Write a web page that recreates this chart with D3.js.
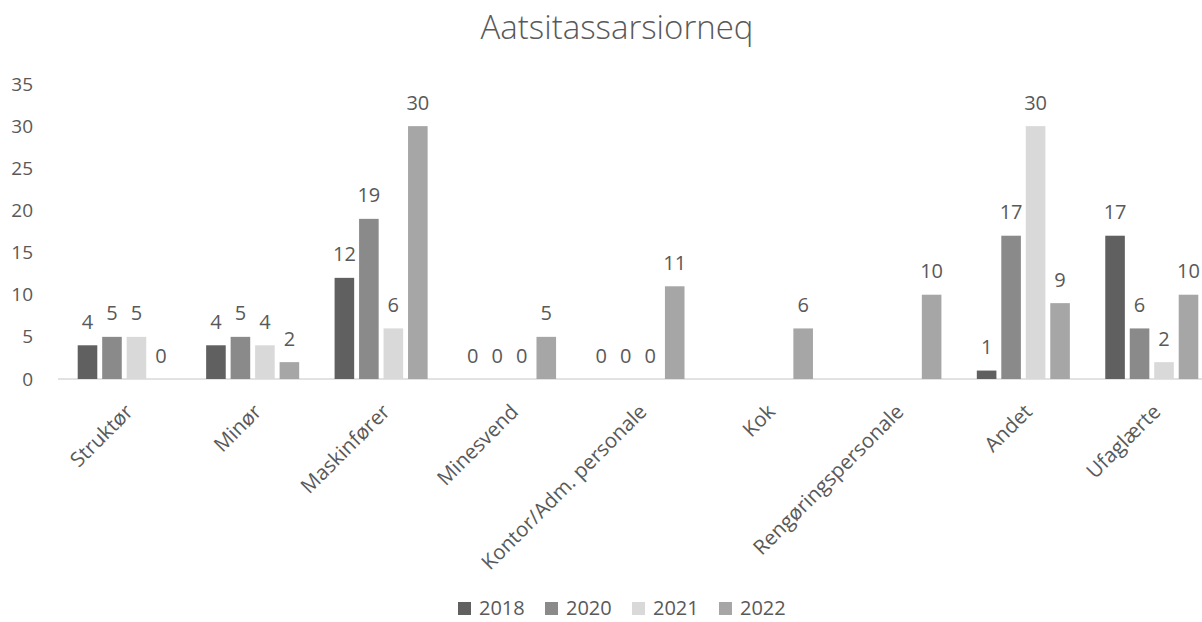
<!DOCTYPE html>
<html>
<head>
<meta charset="utf-8">
<script src="https://cdn.jsdelivr.net/npm/d3@7/dist/d3.min.js"></script>
<style>
  html, body { margin: 0; padding: 0; background: #fff; }
  svg { display: block; font-family: "Open Sans", "Noto Sans", sans-serif; }
</style>
</head>
<body>
<svg id="chart" width="1202" height="622"></svg>
<script>
const title = "Aatsitassarsiorneq";
const categories = ["Struktør", "Minør", "Maskinfører", "Minesvend", "Kontor/Adm. personale", "Kok", "Rengøringspersonale", "Andet", "Ufaglærte"];
const seriesNames = ["2018", "2020", "2021", "2022"];
const values2018 = [4, 4, 12, 0, 0, null, null, 1, 17];
const values2020 = [5, 5, 19, 0, 0, null, null, 17, 6];
const values2021 = [5, 4, 6, 0, 0, null, null, 30, 2];
const values2022 = [0, 2, 30, 5, 11, 6, 10, 9, 10];
const yTicks = [0, 5, 10, 15, 20, 25, 30, 35];
const colors = ["#606060", "#8a8a8a", "#d9d9d9", "#a6a6a6"];

const seriesValues = [values2018, values2020, values2021, values2022];

const svg = d3.select("#chart");
const textColor = "#595959";
const FONT = '"Open Sans", "Noto Sans", sans-serif';

const x0 = d3.scaleBand().domain(categories).range([60, 1216]).paddingInner(0.2757).paddingOuter(0.1378);
const x1 = d3.scaleBand().domain(seriesNames).range([0, x0.bandwidth()]).paddingInner(0.2).paddingOuter(0);
const y = d3.scaleLinear().domain([0, 35]).range([379, 84]);

// title
svg.append("text")
  .attr("x", 617).attr("y", 39)
  .attr("text-anchor", "middle")
  .attr("font-size", 33)
  .attr("font-weight", 300)
  .attr("fill", textColor)
  .text(title);

// y axis
const yAxis = d3.axisLeft(y).tickValues(yTicks).tickSize(0).tickPadding(0);
const yg = svg.append("g").attr("transform", "translate(33,0)").call(yAxis);
yg.attr("font-family", FONT).attr("font-size", 19);
yg.select(".domain").remove();
yg.selectAll("text").attr("fill", textColor);

// baseline
svg.append("line")
  .attr("x1", 58).attr("x2", 1202)
  .attr("y1", y(0)).attr("y2", y(0))
  .attr("stroke", "#d9d9d9").attr("stroke-width", 1.5);

// bars
const groups = svg.append("g").selectAll("g")
  .data(categories)
  .join("g")
  .attr("transform", d => `translate(${x0(d)},0)`);

categories.forEach((cat, ci) => {
  const g = d3.select(groups.nodes()[ci]);
  seriesNames.forEach((s, si) => {
    const v = seriesValues[si][ci];
    if (v === null) return;
    g.append("rect")
      .attr("x", x1(s))
      .attr("y", y(v))
      .attr("width", x1.bandwidth())
      .attr("height", y(0) - y(v))
      .attr("fill", colors[si]);
    g.append("text")
      .attr("x", x1(s) + x1.bandwidth() / 2)
      .attr("y", y(v) - 16.5)
      .attr("text-anchor", "middle")
      .attr("font-size", 20)
      .attr("fill", textColor)
      .text(v);
  });
});

// x labels
const xAxis = d3.axisBottom(x0).tickSize(0).tickPadding(0);
const xg = svg.append("g").call(xAxis);
xg.attr("font-family", FONT).attr("font-size", 20.5);
xg.select(".domain").remove();
xg.selectAll(".tick").attr("transform", d => `translate(${x0(d) + x0.bandwidth() / 2 + 10},413)`);
xg.selectAll("text")
  .attr("y", 0).attr("dy", 0)
  .attr("transform", "rotate(-45)")
  .attr("text-anchor", "end")
  .attr("fill", textColor);

// legend
const legendX = [458, 545, 632, 719];
const leg = svg.append("g");
seriesNames.forEach((s, i) => {
  leg.append("rect")
    .attr("x", legendX[i]).attr("y", 602)
    .attr("width", 13).attr("height", 13)
    .attr("fill", colors[i]);
  leg.append("text")
    .attr("x", legendX[i] + 21).attr("y", 615)
    .attr("font-size", 20)
    .attr("fill", textColor)
    .text(s);
});
</script>
</body>
</html>
